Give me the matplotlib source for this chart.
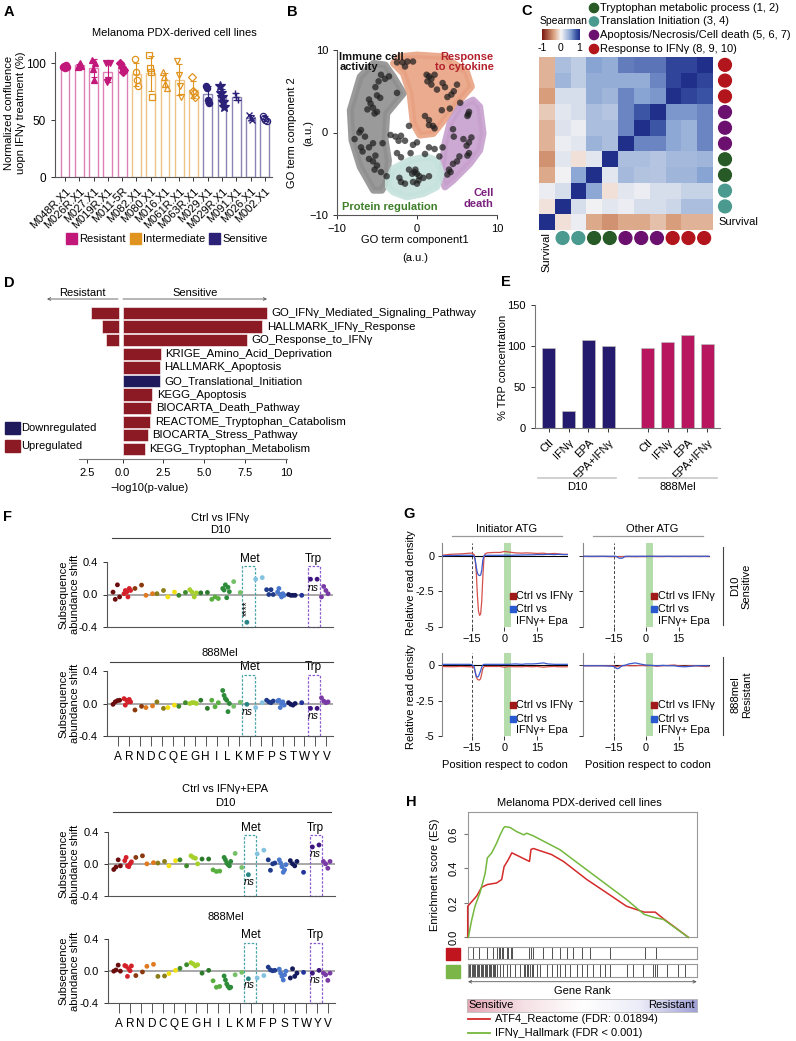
import numpy as np
import matplotlib
matplotlib.use('Agg')
import matplotlib.pyplot as plt
from matplotlib.patches import Rectangle, Polygon, Circle
from matplotlib.colors import LinearSegmentedColormap, to_rgba

plt.rcParams['font.family'] = ['Liberation Sans', 'DejaVu Sans']
plt.rcParams['font.size'] = 7.5
plt.rcParams['axes.linewidth'] = 0.8

# ---------------- Panel A data ----------------
a_lines = ['M048R.X1', 'M026R.X1', 'M027.X1', 'M019R.X1', 'M011-5R', 'M082.X1', 'M080.X1',
           'M016.X1', 'M061R.X1', 'M063R.X1', 'M029.X1', 'M029R.X1', 'M091.X1', 'M026.X1', 'M002.X1']
a_groups = ['Resistant'] * 5 + ['Intermediate'] * 5 + ['Sensitive'] * 5
a_reps = [[97, 98, 96, 99, 97], [97, 99, 100, 98], [103, 95, 85, 100], [100, 84, 85, 100],
          [100, 97, 92, 94], [104, 92, 85, 80], [107, 96, 92, 70], [92, 88, 82, 78],
          [102, 90, 80, 70], [88, 76, 74, 70], [80, 78, 68, 65], [80, 74, 70, 66, 62],
          [74, 70, 68], [55, 52, 50], [54, 52, 50, 49]]
a_markers = ['o', '^', '^', 'v', 'D', 'o', 's', '^', 'v', 'D', 'o', '*', '+', 'x', 'o']
a_filled = [True] * 5 + [False] * 5 + [True, True, True, True, False]

# ---------------- Panel B data ----------------
b_x = [-4.5, -4.0, -4.8, -3.5, -5.2, -6.0, -5.8, -5.0, -4.6, -5.5, -6.2, -5.0, -5.3, -2.5, -7.0, -7.2,
       -6.5, -7.8, -5.5, -4.3, -7.0, -6.0, -6.8, -5.2, -5.5, -5.0, -5.3, -4.5, -3.8, -6.0,
       -2.5, -1.8, -1.2, -0.5, -1.5, 1.2, 1.5, 1.3, 1.8, 2.2, 3.2, 3.5, 5.0, 4.6, 4.3, 3.8, 2.5,
       5.4, 3.1, 4.1, 1.0, 1.5, 2.0, 2.2, 1.5, 1.8,
       6.5, 6.4, 6.3, 4.5, 4.6, 5.8, 6.8, 6.5, 6.2, 6.5, 6.3, 4.5, 5.0, 4.0, 4.2, 3.8, 5.3,
       -2.2, -2.0, -1.5, -1.0, -0.6, -0.3, 0.0, 0.3, 0.2, 0.8, 1.5, -0.5, 0.0, -0.2,
       -1.0, -3.3, -2.7, -2.0, -2.3, -1.5, 0.0, -0.5, -2.5, -2.0, 1.5, 2.2, 3.2, 1.0, 2.8, -0.8]
b_y = [7.0, 6.5, 6.2, 6.8, 5.5, 4.0, 3.5, 4.5, 4.2, 3.0, 2.8, 2.5, 2.3, 4.8, 0.3, 0.0,
       -0.5, -0.8, -1.3, -1.3, -1.8, -1.8, -2.3, -2.8, -3.5, -4.0, -4.5, -4.8, -5.3, -3.2,
       8.5, 8.5, 8.6, 8.6, 8.0, 7.0, 6.8, 6.2, 6.5, 7.0, 6.0, 5.5, 5.8, 5.0, 4.6, 4.3, 5.2,
       3.6, 2.7, 2.9, 2.0, 1.5, 0.8, 0.5, 0.9, 5.8,
       2.5, 2.2, 2.0, 0.4, -0.5, -0.8, -0.6, -1.2, -1.6, -2.5, -2.8, -3.8, -3.5, -4.5, -4.8, -5.1, -2.9,
       -5.5, -6.0, -6.2, -4.5, -5.0, -4.8, -5.0, -5.3, -5.8, -5.5, -5.3, -6.0, -6.2, -4.5,
       0.8, -0.3, -0.5, -0.4, -1.0, -1.0, -1.2, -1.5, -2.5, -3.0, -1.8, -2.0, -1.8, -2.6, -2.9, -2.5]
b_immune = [(-8.34, 2.71), (-7.1, 6.76), (-5.44, 8.38), (-3.98, 8.18), (-2.95, 6.76), (-1.7, 4.74),
            (-3.78, 2.31), (-3.98, -0.93), (-3.57, -3.36), (-3.78, -5.79), (-4.4, -7.0),
            (-5.44, -7.0), (-7.1, -4.17), (-8.13, -0.93)]
b_cytokine = [(-2.95, 8.38), (-2.12, 9.19), (-0.04, 9.39), (3.28, 9.19), (6.18, 7.37), (6.8, 5.55),
              (5.35, 3.93), (3.69, 1.9), (2.03, -0.12), (0.37, -0.32), (-0.46, 1.09), (-0.87, 4.74),
              (-1.7, 7.17)]
b_death = [(5.35, 3.12), (7.01, 3.93), (7.84, 3.12), (8.26, -0.12), (7.84, -2.15), (6.6, -3.77),
           (4.52, -5.79), (3.49, -6.6), (3.07, -4.98), (3.49, -1.34), (4.11, 1.09)]
b_protein = [(-3.57, -5.79), (-2.95, -4.37), (-0.87, -3.36), (1.2, -2.96), (2.45, -3.36), (3.07, -4.98),
             (2.45, -6.6), (0.79, -7.41), (-1.29, -7.81), (-2.95, -7.21), (-3.57, -6.6)]

# ---------------- Panel C data ----------------
c_row_groups = ['IFN', 'IFN', 'IFN', 'Apo', 'Apo', 'Apo', 'Trp', 'Trp', 'Tra', 'Tra']
c_col_groups = ['Tra', 'Tra', 'Trp', 'Trp', 'Apo', 'Apo', 'Apo', 'IFN', 'IFN', 'IFN']
c_corr = [
    [-0.30, 0.35, 0.25, 0.50, 0.45, 0.65, 0.68, 0.68, 0.88, 0.88, 1.00],
    [-0.30, 0.40, 0.25, 0.45, 0.45, 0.45, 0.45, 0.62, 0.88, 1.00, 0.88],
    [-0.40, 0.15, 0.15, 0.45, 0.40, 0.62, 0.50, 0.55, 1.00, 0.88, 0.82],
    [-0.20, 0.10, 0.15, 0.35, 0.30, 0.62, 0.80, 1.00, 0.55, 0.55, 0.62],
    [-0.30, 0.12, 0.05, 0.35, 0.35, 0.62, 1.00, 0.80, 0.48, 0.42, 0.62],
    [-0.30, 0.05, 0.10, 0.42, 0.35, 1.00, 0.62, 0.62, 0.48, 0.42, 0.62],
    [-0.45, 0.10, -0.10, 0.10, 1.00, 0.35, 0.35, 0.30, 0.38, 0.38, 0.40],
    [-0.35, 0.03, 0.48, 1.00, 0.10, 0.38, 0.32, 0.30, 0.40, 0.40, 0.50],
    [0.05, 0.15, 1.00, 0.48, -0.10, 0.10, 0.05, 0.15, 0.15, 0.22, 0.22],
    [-0.08, 1.00, 0.15, 0.03, 0.10, 0.05, 0.15, 0.15, 0.20, 0.35, 0.35],
    [1.00, -0.10, 0.05, -0.35, -0.45, -0.35, -0.35, -0.25, -0.40, -0.30, -0.30]]
c_legend = ['Tryptophan metabolic process (1, 2)', 'Translation Initiation (3, 4)',
            'Apoptosis/Necrosis/Cell death (5, 6, 7)', 'Response to IFNγ (8, 9, 10)']

# ---------------- Panel D data ----------------
d_terms = ['GO_IFNγ_Mediated_Signaling_Pathway', 'HALLMARK_IFNγ_Response', 'GO_Response_to_IFNγ',
           'KRIGE_Amino_Acid_Deprivation', 'HALLMARK_Apoptosis', 'GO_Translational_Initiation',
           'KEGG_Apoptosis', 'BIOCARTA_Death_Pathway', 'REACTOME_Tryptophan_Catabolism',
           'BIOCARTA_Stress_Pathway', 'KEGG_Tryptophan_Metabolism']
d_sensitive = [8.85, 8.55, 7.6, 2.35, 2.28, 2.28, 1.82, 1.76, 1.7, 1.55, 1.37]
d_resistant = [2.2, 1.36, 1.05, 0, 0, 0, 0, 0, 0, 0, 0]
d_direction = ['Up', 'Up', 'Up', 'Up', 'Up', 'Down', 'Up', 'Up', 'Up', 'Up', 'Up']

# ---------------- Panel E data ----------------
e_labels = ['Ctl', 'IFNγ', 'EPA', 'EPA+IFNγ']
e_d10 = [98, 21, 107, 100]
e_888 = [98, 105, 113, 103]

# ---------------- Panel F data ----------------
f_aa = ['A', 'R', 'N', 'D', 'C', 'Q', 'E', 'G', 'H', 'I', 'L', 'K', 'M', 'F', 'P', 'S', 'T', 'W', 'Y', 'V']
f_d10_ifn = [[0.03, -0.06, 0.12, -0.03], [0.01, 0.05, 0.03, -0.03, 0.075, 0.05], [0.075, 0.117],
             [-0.01, 0.01], [0.01, 0.05], [-0.03, 0.03], [-0.01, 0.025], [0.06, 0.03, -0.03, 0.02],
             [0.02, 0.025], [-0.06, -0.03, -0.05], [0.075, 0.055, 0.12, -0.04, 0.09, 0.035], [0.16, 0.025],
             [-0.345], [0.19, 0.21], [0.06, 0.0, 0.06, 0.0], [0.03, 0.075, 0.0, -0.03, 0.01, -0.01],
             [0.0, -0.01, -0.01, -0.01], [-0.01], [0.19, 0.19], [-0.03, 0.10, 0.05, 0.01]]
f_888_ifn = [[-0.01, 0.02, 0.035, 0.04], [0.06, -0.02, 0.04, 0.02, 0.05, 0.02], [-0.08, -0.035],
             [-0.05, -0.03], [0.02, -0.06], [-0.05, -0.02], [-0.035, 0.01], [0.0, 0.01, 0.01, 0.0],
             [0.04, -0.06], [0.04, -0.04, 0.01], [0.16, 0.1, 0.06, 0.04, -0.1, 0.0], [-0.035, 0.015],
             [-0.01], [-0.05, 0.01], [0.04, 0.02, 0.01, 0.03], [0.03, 0.04, -0.05, 0.0, 0.02, -0.02],
             [0.01, -0.01, -0.02, 0.0], [0.01], [-0.06, -0.06], [0.07, 0.03, 0.01, 0.02]]
f_d10_epa = [[-0.07, -0.04, 0.05, -0.025], [0.04, 0.08, -0.025, -0.035, 0.0, 0.025], [0.08, 0.1],
             [0.0, 0.015], [0.01, 0.03], [-0.025, 0.04], [0.05, -0.025], [0.1, 0.08, 0.07, 0.0],
             [0.06, 0.06], [-0.075, -0.095, -0.09], [0.08, 0.05, 0.01, -0.01, -0.025, 0.03], [0.13, -0.045],
             [-0.135], [0.125, 0.17], [0.05, -0.08, 0.0, 0.01], [0.05, 0.01, -0.035, -0.105, -0.075, -0.01],
             [0.04, 0.0, -0.025, 0.03], [-0.105], [0.21, 0.235], [0.03, 0.0, -0.055, 0.03]]
f_888_epa = [[0.0, 0.015, 0.075, 0.0], [0.07, 0.06, -0.065, 0.03, 0.005, 0.065], [-0.055, -0.01],
             [0.06, 0.085], [-0.065, -0.06], [-0.03, 0.01], [0.035, 0.08], [0.105, 0.09, 0.065, 0.08],
             [-0.025, 0.01], [-0.12, -0.2, -0.19], [-0.06, -0.11, -0.16, -0.19, -0.21, -0.2], [-0.045, -0.015],
             [-0.095], [-0.085, -0.055], [0.05, 0.015, 0.005, 0.01], [0.025, -0.025, -0.065, -0.11, -0.045, 0.0],
             [-0.085, 0.03, -0.065, -0.025], [-0.015], [-0.025, 0.01], [-0.025, -0.045, -0.115, -0.025]]

# ---------------- Panel G data ----------------
g_pos = [-29, -25, -20, -16, -15, -14, -13.5, -13, -12.5, -12, -11.5, -11, -10.5, -10, -9.5, -9, -8, -5,
         -2, 0, 2, 5, 8, 10, 13, 15, 18, 20, 23, 25, 27, 29]
g_d10_init_red = [0.05, 0.12, 0.15, 0.2, 0.2, 0.1, -0.3, -1.2, -2.8, -3.9, -4.2, -4.1, -3.2, -1.5, -0.2, 0.15,
                  0.22, 0.25, 0.25, 0.32, 0.28, 0.22, 0.2, 0.22, 0.2, 0.18, 0.2, 0.15, 0.18, 0.15, 0.12, 0.12]
g_d10_init_blue = [0.02, 0.03, 0.05, 0.05, 0.05, 0.0, -0.3, -0.8, -1.2, -1.35, -1.38, -1.35, -1.0, -0.3, 0.02,
                   0.05, 0.05, 0.05, 0.05, 0.06, 0.05, 0.06, 0.07, 0.08, 0.08, 0.1, 0.1, 0.12, 0.1, 0.12, 0.1, 0.1]
g_d10_other_red = [-0.03, -0.04, -0.03, -0.05, -0.04, -0.04, -0.05, -0.05, -0.04, -0.05, -0.05, -0.04, -0.04,
                   -0.04, -0.05, -0.05, -0.04, -0.05, -0.04, -0.04, -0.03, -0.04, -0.04, -0.03, -0.04, -0.04,
                   -0.03, -0.04, -0.03, -0.04, -0.03, -0.04]
g_d10_other_blue = [-0.02, -0.02, -0.02, -0.02, -0.02, -0.03, -0.05, -0.1, -0.15, -0.16, -0.16, -0.15, -0.12,
                    -0.05, -0.02, -0.02, -0.02, -0.02, -0.02, -0.02, -0.02, -0.02, -0.02, -0.02, -0.02, -0.02,
                    -0.02, -0.02, -0.02, -0.02, -0.02, -0.02]
g_888_init_red = [-0.1, -0.12, -0.1, -0.12, -0.12, -0.2, -0.5, -0.85, -1.0, -1.05, -1.05, -0.95, -0.6, -0.25,
                  -0.12, -0.1, -0.1, -0.1, -0.1, -0.15, -0.1, -0.12, -0.12, -0.1, -0.12, -0.1, -0.15, -0.12,
                  -0.1, -0.12, -0.12, -0.12]
g_888_init_blue = [0.05, 0.05, 0.05, 0.05, 0.02, -0.1, -0.5, -0.8, -0.85, -0.8, -0.6, -0.4, -0.15, 0.0, 0.05,
                   0.05, 0.05, 0.05, 0.05, 0.05, 0.05, 0.08, 0.05, 0.08, 0.08, 0.1, 0.15, 0.08, 0.05, 0.05,
                   0.05, 0.05]
g_888_other_red = [-0.05, -0.05, -0.05, -0.05, -0.05, -0.1, -0.12, -0.1, -0.08, -0.06, -0.05, -0.05, -0.05,
                   -0.05, -0.04, -0.03, -0.05, -0.05, -0.03, -0.05, -0.03, -0.08, -0.05, -0.03, 0.0, -0.05,
                   -0.08, -0.05, -0.05, -0.08, -0.1, -0.1]
g_888_other_blue = [-0.05, -0.05, -0.05, -0.08, -0.1, -0.2, -0.25, -0.25, -0.22, -0.15, -0.1, -0.05, -0.03,
                    -0.02, 0.0, 0.02, 0.08, 0.15, 0.05, 0.0, -0.02, -0.05, -0.02, -0.05, -0.05, -0.1, -0.12,
                    -0.1, -0.05, -0.05, -0.05, -0.05]

# ---------------- Panel H data ----------------
h_red_x = [0, 0, 0.041, 0.063, 0.089, 0.131, 0.154, 0.165, 0.184, 0.2, 0.28, 0.287, 0.298, 0.38, 0.434,
           0.54, 0.63, 0.72, 0.80, 0.85, 0.887, 1.0]
h_red_y = [0, 0.18, 0.24, 0.29, 0.306, 0.315, 0.335, 0.41, 0.45, 0.49, 0.44, 0.51, 0.515, 0.48, 0.44,
           0.335, 0.258, 0.18, 0.146, 0.146, 0.108, 0]
h_green_x = [0.003, 0.018, 0.033, 0.056, 0.079, 0.089, 0.109, 0.131, 0.147, 0.162, 0.169, 0.192, 0.222,
             0.255, 0.267, 0.298, 0.418, 0.539, 0.72, 0.80, 0.85, 0.887, 1.0]
h_green_y = [0, 0.10, 0.18, 0.26, 0.37, 0.46, 0.49, 0.546, 0.594, 0.633, 0.642, 0.637, 0.613, 0.594,
             0.604, 0.588, 0.508, 0.392, 0.219, 0.133, 0.113, 0.104, 0]
h_red_hits = [0.026, 0.053, 0.089, 0.116, 0.134, 0.141, 0.147, 0.154, 0.162, 0.177, 0.184, 0.196, 0.202,
              0.279, 0.287, 0.298, 0.343, 0.381, 0.418, 0.449, 0.479, 0.517, 0.554, 0.645, 0.804, 0.854]
h_green_hits = [0.006, 0.012, 0.018, 0.024, 0.029, 0.035, 0.041, 0.047, 0.053, 0.059, 0.065, 0.071, 0.077,
                0.083, 0.089, 0.095, 0.101, 0.107, 0.113, 0.119, 0.125, 0.131, 0.147, 0.162, 0.177, 0.192,
                0.215, 0.237, 0.255, 0.261, 0.267, 0.275, 0.282, 0.290, 0.298, 0.313, 0.328, 0.358, 0.381,
                0.403, 0.418, 0.441, 0.464, 0.494, 0.517, 0.539, 0.570, 0.600, 0.622, 0.645, 0.721, 0.751,
                0.796, 0.841, 0.849, 0.856, 0.902, 0.955, 0.985]

# ================= figure =================
W, H = 796, 1041
fig = plt.figure(figsize=(W / 100, H / 100), dpi=100)


def add_ax(l, t, r, b):
    return fig.add_axes([l / W, 1 - b / H, (r - l) / W, (b - t) / H])


ov = fig.add_axes([0, 0, 1, 1])
ov.set_xlim(0, W)
ov.set_ylim(H, 0)
ov.axis('off')
ov.set_zorder(50)


def T(x, y, s, **kw):
    kw.setdefault('fontsize', 7.5)
    ov.text(x, y, s, **kw)


def plabel(x, y, s):
    T(x, y, s, fontsize=10.5, fontweight='bold', ha='left', va='top')


def spines(ax, left=True, bottom=True, color='#555555', lw=0.8):
    ax.spines['top'].set_visible(False)
    ax.spines['right'].set_visible(False)
    ax.spines['left'].set_visible(left)
    ax.spines['bottom'].set_visible(bottom)
    for s in ['left', 'bottom']:
        ax.spines[s].set_color(color)
        ax.spines[s].set_linewidth(lw)
    ax.tick_params(colors='#333333', width=0.7, length=3, labelcolor='black')


# ---------------- Panel A ----------------
plabel(4, 5, 'A')
grp_col = {'Resistant': '#c2187a', 'Intermediate': '#e0941f', 'Sensitive': '#2b2278'}
axA = add_ax(55, 52, 272, 177)
for i, (g, reps, mk, fl) in enumerate(zip(a_groups, a_reps, a_markers, a_filled)):
    c = grp_col[g]
    m = np.mean(reps)
    sd = np.std(reps, ddof=1)
    axA.bar(i, m, width=0.62, facecolor='white', edgecolor=to_rgba(c, 0.55), linewidth=1.0, zorder=1)
    axA.errorbar(i, m, yerr=sd, color=c, capsize=2, lw=0.8, capthick=0.8, zorder=2)
    xs = i + np.linspace(-0.12, 0.12, len(reps))
    ms = 7 if mk == '*' else 4.5
    if mk in ['+', 'x']:
        axA.plot(xs, reps, ls='none', marker=mk, ms=ms, color=c, mew=1.0, zorder=3)
    else:
        axA.plot(xs, reps, ls='none', marker=mk, ms=ms, mec=c, mfc=c if fl else 'none', mew=0.9, zorder=3)
axA.set_xlim(-0.7, 14.5)
axA.set_ylim(0, 110)
axA.set_yticks([0, 50, 100])
axA.set_xticks(range(len(a_lines)))
axA.set_xticklabels(a_lines, rotation=45, ha='right', rotation_mode='anchor', fontsize=8)
axA.tick_params(axis='y', labelsize=8.5)
spines(axA)
T(174, 33, 'Melanoma PDX-derived cell lines', ha='center', va='center', fontsize=8)
T(15, 113, 'Normalized confluence\nuopn IFNγ treatment (%)', rotation=90, ha='center', va='center',
  fontsize=8, multialignment='center', linespacing=1.15)
for (x0, lab), g in zip([(66, 'Resistant'), (130, 'Intermediate'), (209, 'Sensitive')],
                        ['Resistant', 'Intermediate', 'Sensitive']):
    ov.add_patch(Rectangle((x0, 233), 11, 11, color=grp_col[g]))
    T(x0 + 13.5, 238.5, lab, ha='left', va='center', fontsize=8)

# ---------------- Panel B ----------------
plabel(287, 5, 'B')
axB = add_ax(337, 50, 497, 215)
for poly, col in [(b_immune, '#8f8f8f'), (b_cytokine, '#e8a282'), (b_death, '#c7a0cd'),
                  (b_protein, '#c6e2dc')]:
    axB.add_patch(Polygon(poly, closed=True, fc=col, ec=col, lw=5, joinstyle='round', alpha=0.9, zorder=1))
axB.scatter(b_x, b_y, s=22, c='#1e1e1e', alpha=0.72, edgecolors='none', zorder=3)
axB.set_xlim(-10, 10)
axB.set_ylim(-10, 10)
axB.set_xticks([-10, 0, 10])
axB.set_yticks([-10, 0, 10])
axB.tick_params(labelsize=8)
spines(axB)
axB.text(-9.7, 9.8, 'Immune cell\nactivity', fontweight='bold', fontsize=8, va='top', ha='left', color='#111111',
         linespacing=1.1)
axB.text(9.6, 9.8, 'Response\nto cytokine', fontweight='bold', fontsize=8, va='top', ha='right',
         color='#b3202c', multialignment='right', linespacing=1.1)
axB.text(9.6, -6.7, 'Cell\ndeath', fontweight='bold', fontsize=8, va='top', ha='right', color='#7a1f7e',
         multialignment='right', linespacing=1.1)
axB.text(-9.4, -9.0, 'Protein regulation', fontweight='bold', fontsize=8, va='center', ha='left',
         color='#3f7f2a')
T(292, 133, 'GO term component 2', rotation=90, ha='center', va='center', fontsize=8)
T(308, 133, '(a.u.)', rotation=90, ha='center', va='center', fontsize=8)
T(415, 240, 'GO term component1', ha='center', va='center', fontsize=8)
T(415, 258, '(a.u.)', ha='center', va='center', fontsize=8)

# ---------------- Panel C ----------------
plabel(521, 4, 'C')
cmapC = LinearSegmentedColormap.from_list('sp', [(0, '#7b1a10'), (0.3, '#d99e7c'), (0.5, '#f8f6f6'),
                                                 (0.75, '#8aa6d4'), (0.9, '#3d56a6'), (1.0, '#1f2f8a')])
axC = add_ax(539, 57, 713, 230)
axC.imshow(np.array(c_corr), cmap=cmapC, vmin=-1, vmax=1, aspect='auto', interpolation='nearest')
axC.axis('off')
grp_c = {'Trp': '#275a27', 'Tra': '#4b9a8f', 'Apo': '#6c106f', 'IFN': '#b3151c'}
cell = (230 - 57) / 11
for i, g in enumerate(c_row_groups):
    ov.add_patch(Circle((725, 57 + cell * (i + 0.5)), 6.4, color=grp_c[g]))
for j, g in enumerate(c_col_groups):
    ov.add_patch(Circle((539 + cell * (j + 1.5), 238), 6.4, color=grp_c[g]))
T(718, 222, 'Survival', ha='left', va='center', fontsize=8)
T(546, 252, 'Survival', rotation=90, ha='center', va='center', fontsize=8)
for k, (lab, g) in enumerate(zip(c_legend, ['Trp', 'Tra', 'Apo', 'IFN'])):
    y = [8, 21.5, 35, 49][k]
    ov.add_patch(Circle((594, y), 4.6, color=grp_c[g]))
    T(600, y, lab, ha='left', va='center', fontsize=8)
T(564, 21.5, 'Spearman', ha='center', va='center', fontsize=7.5)
axCb = add_ax(542, 29, 580, 40)
axCb.imshow(np.linspace(-1, 1, 200)[None, :], cmap=cmapC, aspect='auto', vmin=-1, vmax=1)
axCb.axis('off')
for x, s in [(542.7, '-1'), (560.5, '0'), (578.7, '1')]:
    T(x, 48, s, ha='center', va='center', fontsize=7.5)

# ---------------- Panel D ----------------
plabel(4, 276, 'D')
dcol = {'Up': '#8c1a24', 'Down': '#1e1a5c'}
rows = np.arange(len(d_terms))
axDL = add_ax(79, 305, 121, 459.3)
axDR = add_ax(121, 305, 287.3, 459.3)
axDL.barh(rows, d_resistant, height=0.9, color=[dcol[d] for d in d_direction], edgecolor='white', lw=0.4)
axDR.barh(rows, d_sensitive, height=0.9, color=[dcol[d] for d in d_direction], edgecolor='white', lw=0.4)
for ax in (axDL, axDR):
    ax.set_ylim(10.76, -0.59)
    ax.set_yticks([])
    spines(ax, left=False, color='#777777')
    ax.tick_params(labelsize=8)
axDL.set_xlim(3.09, -0.13)
axDL.set_xticks([2.5])
axDL.set_xticklabels(['2.5'])
axDR.set_xlim(-0.1, 10.08)
axDR.set_xticks([0, 2.5, 5, 7.5, 10])
axDR.set_xticklabels(['0.0', '2.5', '5.0', '7.5', '10'])
for i, (t, v) in enumerate(zip(d_terms, d_sensitive)):
    axDR.text(v + 0.28, i, t, va='center', ha='left', fontsize=8.2, clip_on=False)
ov.annotate('', xy=(47, 299), xytext=(118, 299),
            arrowprops=dict(arrowstyle='->', color='#555555', lw=0.6, shrinkA=0, shrinkB=0, mutation_scale=5))
ov.annotate('', xy=(267, 299), xytext=(123, 299),
            arrowprops=dict(arrowstyle='->', color='#555555', lw=0.6, shrinkA=0, shrinkB=0, mutation_scale=5))
T(82, 293, 'Resistant', ha='center', va='center', fontsize=8)
T(195, 293, 'Sensitive', ha='center', va='center', fontsize=8)
ov.add_patch(Rectangle((5, 422), 15, 12, color=dcol['Down']))
ov.add_patch(Rectangle((5, 440), 15, 12, color=dcol['Up']))
T(21, 428, 'Downregulated', ha='left', va='center', fontsize=8)
T(21, 446, 'Upregulated', ha='left', va='center', fontsize=8)
T(150, 488, '−log10(p-value)', ha='center', va='center', fontsize=8)

# ---------------- Panel E ----------------
plabel(501, 275, 'E')
axE = add_ax(535, 305, 720, 428.3)
e_pos_d10 = np.arange(4)
e_pos_888 = np.arange(4) + 5
axE.bar(e_pos_d10, e_d10, width=0.65, color='#241b6e', edgecolor='#bbbbbb', lw=0.5)
axE.bar(e_pos_888, e_888, width=0.65, color='#b8175f', edgecolor='#bbbbbb', lw=0.5)
axE.set_xlim(-0.7, 8.65)
axE.set_ylim(0, 150)
axE.set_yticks([0, 50, 100, 150])
axE.set_xticks(list(e_pos_d10) + list(e_pos_888))
axE.set_xticklabels(e_labels + e_labels, rotation=45, ha='right', rotation_mode='anchor', fontsize=8)
axE.tick_params(axis='y', labelsize=8)
spines(axE, color='#777777')
T(503, 367, '% TRP concentration', rotation=90, ha='center', va='center', fontsize=8)
ov.plot([538, 616], [477.7, 477.7], color='#c8c8c8', lw=1.2)
ov.plot([639, 717], [477.7, 477.7], color='#c8c8c8', lw=1.2)
T(577, 487, 'D10', ha='center', va='center', fontsize=8)
T(678, 487, '888Mel', ha='center', va='center', fontsize=8)

# ---------------- Panel F ----------------
plabel(3, 510, 'F')
f_colors = ['#6b0d0d', '#d4202a', '#8b3a0f', '#e07a20', '#8a7d1a', '#f2e010', '#3d8a2e', '#a5cf2a',
            '#2d7a2d', '#58ae3f', '#2e8b3a', '#77c06a', '#2a8585', '#84c3e0', '#1f3a8a', '#4a78cc',
            '#141a5e', '#25349a', '#3d1680', '#7a3aa5']


def draw_f(ax, vals, xt, ns_met=None, ns_trp=None, stars=False):
    for i, (col, v) in enumerate(zip(f_colors, vals)):
        n = len(v)
        offs = np.array([-0.25]) if n == 1 else np.linspace(-0.45, 0.15, n)
        ax.scatter(i + offs, v, s=12, color=col, edgecolors='none', zorder=3, clip_on=False)
    ax.axhline(0, color='#9a9a9a', lw=1.2, zorder=1)
    ax.set_xlim(-1, 19.6)
    ax.set_ylim(-0.4, 0.4)
    ax.set_yticks([-0.4, 0, 0.4])
    ax.set_yticklabels(['-0.4', '0.0', '0.4'], fontsize=8)
    spines(ax, color='#555555')
    ax.add_patch(Rectangle((11.35, -0.4), 1.1, 0.755, fill=False, ls=(0, (2, 1.3)), ec='#4aa3a8',
                           lw=0.9, clip_on=False, zorder=2))
    ax.add_patch(Rectangle((17.35, -0.4), 1.1, 0.755, fill=False, ls=(0, (2, 1.3)), ec='#8a5ad0',
                           lw=0.9, clip_on=False, zorder=2))
    ax.text(12.0, 0.37, 'Met', ha='center', va='bottom', fontsize=8.5, clip_on=False)
    ax.text(17.8, 0.37, 'Trp', ha='center', va='bottom', fontsize=8.5, clip_on=False)
    if ns_met is not None:
        ax.text(11.8, ns_met, 'ns', ha='center', va='center', fontsize=7.5, style='italic')
    if ns_trp is not None:
        ax.text(17.8, ns_trp, 'ns', ha='center', va='center', fontsize=7.5, style='italic')
    if stars:
        ax.text(11.75, -0.17, '****', rotation=90, ha='center', va='center', fontsize=7)
    if xt:
        ax.set_xticks(range(len(f_aa)))
        ax.set_xticklabels(f_aa, fontsize=8.5)
        ax.tick_params(axis='x', length=7, color='#555555')
    else:
        ax.set_xticks([])


axF1 = add_ax(107, 562.3, 333, 626.7)
draw_f(axF1, f_d10_ifn, False, ns_trp=0.075, stars=True)
axF2 = add_ax(107, 671, 333, 736)
draw_f(axF2, f_888_ifn, True, ns_met=-0.1, ns_trp=-0.155)
axF3 = add_ax(107.7, 831.7, 335, 896)
draw_f(axF3, f_d10_epa, False, ns_met=-0.225, ns_trp=0.124)
axF4 = add_ax(107.7, 939, 335, 1003.3)
draw_f(axF4, f_888_epa, True, ns_met=-0.178, ns_trp=-0.116)
T(220, 518, 'Ctrl vs IFNγ', ha='center', va='center', fontsize=8)
T(220, 530, 'D10', ha='center', va='center', fontsize=8)
ov.plot([112, 330], [538, 538], color='#444444', lw=0.8)
T(220, 653, '888Mel', ha='center', va='center', fontsize=8)
ov.plot([110, 333], [662, 662], color='#444444', lw=0.8)
T(225, 789, 'Ctrl vs IFNγ+EPA', ha='center', va='center', fontsize=8)
T(225, 803, 'D10', ha='center', va='center', fontsize=8)
ov.plot([113, 331], [812, 812], color='#444444', lw=0.8)
T(226, 917, '888Mel', ha='center', va='center', fontsize=8)
for yc in [594.5, 703.5, 864, 971]:
    T(69, yc, 'Subsequence\nabundance shift', rotation=90, ha='center', va='center', fontsize=8,
      multialignment='center', linespacing=1.15)

# ---------------- Panel G ----------------
plabel(403, 507, 'G')


def draw_g(ax, red, blue, ytop, ylabels):
    ax.axvspan(0, 3, color='#b5dcab', lw=0, zorder=0)
    ax.axvline(-15, color='#444444', ls=(0, (3, 2)), lw=0.7, zorder=1)
    ax.axhline(0, color='black', lw=0.8, zorder=2)
    ax.plot(g_pos, red, color='#d4504a', lw=0.9, zorder=3)
    ax.plot(g_pos, blue, color='#3a5bd0', lw=0.9, zorder=4)
    ax.set_xlim(-29, 29.5)
    ax.set_ylim(-5, ytop)
    ax.set_xticks([-15, 0, 15])
    ax.set_yticks([-5, -2.5, 0])
    if ylabels:
        ax.set_yticklabels(['-5', '-2.5', '0'])
    else:
        ax.set_yticklabels([])
    spines(ax, bottom=False, color='#888888')
    ax.tick_params(labelsize=7.8, pad=2)
    ax.scatter([0.56], [0.37], marker='s', s=14, color='#a01a1a', transform=ax.transAxes, clip_on=False,
               zorder=6)
    ax.scatter([0.56], [0.21], marker='s', s=14, color='#2a5ad0', transform=ax.transAxes, clip_on=False,
               zorder=6)
    ax.text(0.59, 0.37, 'Ctrl vs IFNγ', transform=ax.transAxes, va='center', ha='left', fontsize=7.8)
    ax.text(0.59, 0.21, 'Ctrl vs', transform=ax.transAxes, va='center', ha='left', fontsize=7.8)
    ax.text(0.59, 0.07, 'IFNγ+ Epa', transform=ax.transAxes, va='center', ha='left', fontsize=7.8)


axG1 = add_ax(441.7, 542.7, 568.3, 626.7)
draw_g(axG1, g_d10_init_red, g_d10_init_blue, 0.94, True)
axG2 = add_ax(583.3, 542.7, 710, 626.7)
draw_g(axG2, g_d10_other_red, g_d10_other_blue, 0.94, False)
axG3 = add_ax(441.7, 652.7, 568.3, 736)
draw_g(axG3, g_888_init_red, g_888_init_blue, 0.87, True)
axG4 = add_ax(583.3, 652.7, 710, 736)
draw_g(axG4, g_888_other_red, g_888_other_blue, 0.87, False)
T(507, 529, 'Initiator ATG', ha='center', va='center', fontsize=8)
ov.plot([451.7, 561.7], [536, 536], color='#999999', lw=0.9)
T(651.7, 529, 'Other ATG', ha='center', va='center', fontsize=8)
ov.plot([592.7, 703.3], [536, 536], color='#999999', lw=0.9)
ov.plot([723.3, 723.3], [547, 625], color='#444444', lw=0.8)
ov.plot([723.3, 723.3], [656.7, 735], color='#444444', lw=0.8)
T(741, 586, 'D10\nSensitive', rotation=90, ha='center', va='center', fontsize=8, multialignment='center')
T(741, 695, '888mel\nResistant', rotation=90, ha='center', va='center', fontsize=8, multialignment='center')
T(411, 583, 'Relative read density', rotation=90, ha='center', va='center', fontsize=8)
T(411, 697, 'Relative read density', rotation=90, ha='center', va='center', fontsize=8)
T(505, 765, 'Position respect to codon', ha='center', va='center', fontsize=8)
T(648, 765, 'Position respect to codon', ha='center', va='center', fontsize=8)

# ---------------- Panel H ----------------
plabel(406, 795, 'H')
axH = add_ax(467.7, 812.3, 696.7, 937.3)
axH.plot(h_red_x, h_red_y, color='#d42a2a', lw=1.1, clip_on=False, zorder=3)
axH.plot(h_green_x, h_green_y, color='#74b83e', lw=1.1, clip_on=False, zorder=4)
axH.set_xlim(0, 1.038)
axH.set_ylim(0, 0.725)
axH.set_xticks([])
axH.set_yticks([0, 0.2, 0.4, 0.6])
axH.set_yticklabels(['0.0', '0.2', '0.4', '0.6'], rotation=90, va='center', fontsize=8)
for s in axH.spines.values():
    s.set_color('#999999')
    s.set_linewidth(0.8)
axH.tick_params(axis='y', length=3, color='#777777')
for (t, b), hits, col in [((946.7, 959), h_red_hits, '#c0141e'), ((964, 977), h_green_hits, '#7ab648')]:
    axs = add_ax(467.7, t, 696.7, b)
    axs.vlines(hits, 0, 1, color='#333333', lw=0.6)
    axs.set_xlim(0, 1.038)
    axs.set_ylim(0, 1)
    axs.set_xticks([])
    axs.set_yticks([])
    for s in axs.spines.values():
        s.set_color('#999999')
        s.set_linewidth(0.8)
    ov.add_patch(Rectangle((446, t + 1), 14, b - t - 0.5, color=col))
T(579, 803, 'Melanoma PDX-derived cell lines', ha='center', va='center', fontsize=8)
T(435, 875, 'Enrichment score (ES)', rotation=90, ha='center', va='center', fontsize=8)
ov.annotate('', xy=(468, 981.7), xytext=(696.7, 981.7),
            arrowprops=dict(arrowstyle='<->', color='#555555', lw=0.6, shrinkA=0, shrinkB=0, mutation_scale=5))
T(582.7, 990.5, 'Gene Rank', ha='center', va='center', fontsize=8)
axGr = add_ax(466.7, 999.3, 696.7, 1011.7)
grad = LinearSegmentedColormap.from_list('g', ['#e3a5b3', '#f5e1e6', '#ffffff', '#ececf8', '#9e9fd6'])
axGr.imshow(np.linspace(0, 1, 256)[None, :], cmap=grad, aspect='auto')
axGr.set_xticks([])
axGr.set_yticks([])
for s in axGr.spines.values():
    s.set_color('#bbbbbb')
    s.set_linewidth(0.6)
T(468.5, 1005.5, 'Sensitive', ha='left', va='center', fontsize=8)
T(695, 1005.5, 'Resistant', ha='right', va='center', fontsize=8)
ov.plot([468, 490], [1019.3, 1019.3], color='#d42a2a', lw=1.3)
T(495, 1019.3, 'ATF4_Reactome (FDR: 0.01894)', ha='left', va='center', fontsize=8)
ov.plot([468, 490], [1033.3, 1033.3], color='#74b83e', lw=1.3)
T(495, 1033.3, 'IFNγ_Hallmark (FDR < 0.001)', ha='left', va='center', fontsize=8)

fig.savefig('out.png', dpi=100)
